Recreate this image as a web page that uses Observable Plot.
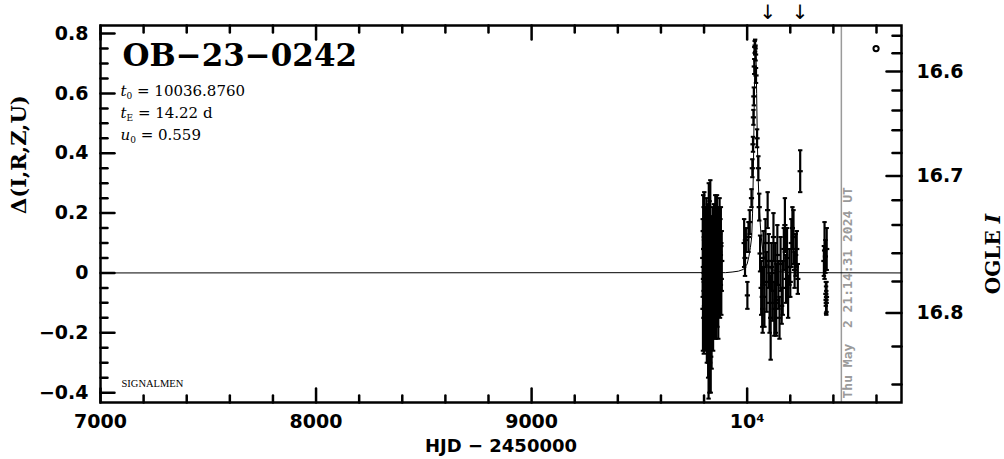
<!DOCTYPE html>
<html><head><meta charset="utf-8">
<script src="https://cdn.jsdelivr.net/npm/d3@7"></script>
<script src="https://cdn.jsdelivr.net/npm/@observablehq/plot@0.6"></script>
<style>
body{margin:0;background:#fff}
svg text{white-space:pre}
</style>
</head><body><div id="chart"></div>
<script>
// ---------- data ----------
const eventName = "OB−23−0242";
const paramLines = ["t0 = 10036.8760", "tE = 14.22 d", "u0 = 0.559"];
const xLabel = "HJD − 2450000";
const yLabel = "Δ(I,R,Z,U)";
const y2Label = "OGLE I";
const dateLabel = "Thu May  2 21:14:31 2024 UT";
const creditLabel = "SIGNALMEN";
const nowT = 10437;                 // date line (HJD-2450000)
const arrowT = [10096, 10246];      // arrows above the frame
const markerT = [10598];            // small open circle
const markerD = [0.75];

// observations: time, delta, error
const obsT = [
 9794,9795,9796,9797,9798,9799,9800,9801,9802,9803,9804,9806,9807,9808,9810,9811,9812,9813,9815,9816,
 9818,9819,9820,9821,9822,9823,9824,9825,9826,9827,9828,9829,9830,9831,9832,9833,9835,9836,9838,9840,
 9842,9844,9846,9848,9850,9852,9854,9856,9858,9860,9862,9864,9866,9868,9870,9872,9874,9876,9878,9880,9882,
 9986,9990,9994,10001,10006,10012,10020,10024,10027,10029,10031,10033,10035,10037,10039,10041,10046,10052,10056,10060,
 10065,10070,10072,10076,10080,10085,10090,10095,10100,10104,10109,10113,10118,10122,10126,10130,10133,10135,10140,10145,
 10150,10155,10160,10165,10170,10175,10180,10185,10190,10196,10200,10205,10210,10215,10220,10225,10230,10235,10246,
 10356,10359,10363,10365,10366,10367,10368,10369
];
const obsD = [
 0.05,-0.12,0.14,-0.02,0.08,-0.15,0.00,0.12,-0.08,0.04,-0.13,0.10,-0.05,0.02,-0.10,0.15,-0.02,-0.18,0.06,-0.07,
 0.10,-0.22,0.00,-0.30,0.16,-0.12,0.05,-0.26,0.12,-0.05,-0.18,0.18,-0.02,-0.28,0.07,-0.10,-0.20,0.03,-0.08,0.10,
 -0.14,0.00,0.12,-0.06,-0.12,0.13,-0.02,-0.10,0.08,0.12,-0.05,0.03,-0.08,0.10,0.00,0.13,-0.04,0.06,0.09,-0.02,0.04,
 0.10,0.05,0.11,-0.075,0.12,0.17,0.25,0.35,0.43,0.52,0.59,0.69,0.755,0.76,0.73,0.66,0.45,0.35,0.22,0.065,
 -0.05,-0.08,-0.12,0.05,-0.08,0.10,-0.03,0.21,0.04,-0.10,-0.15,0.02,-0.06,0.12,-0.12,0.00,-0.10,-0.09,0.06,-0.04,
 -0.15,0.03,-0.11,-0.05,0.08,0.16,-0.02,0.05,-0.08,0.02,-0.03,0.10,0.15,0.12,0.01,0.06,0.08,-0.02,0.34,
 0.04,0.075,0.055,-0.07,-0.09,-0.10,-0.08,0.08
];
const obsE = [
 0.13,0.14,0.12,0.10,0.14,0.12,0.11,0.15,0.12,0.10,0.13,0.12,0.14,0.10,0.12,0.10,0.13,0.12,0.12,0.15,
 0.13,0.13,0.12,0.12,0.14,0.14,0.11,0.14,0.12,0.13,0.12,0.13,0.10,0.12,0.12,0.13,0.12,0.14,0.11,0.12,
 0.12,0.13,0.11,0.12,0.10,0.13,0.12,0.12,0.12,0.14,0.13,0.11,0.14,0.12,0.12,0.12,0.11,0.12,0.13,0.12,0.10,
 0.08,0.06,0.04,0.045,0.05,0.04,0.03,0.03,0.025,0.025,0.03,0.025,0.02,0.02,0.02,0.025,0.03,0.04,0.045,0.06,
 0.09,0.10,0.08,0.09,0.10,0.08,0.10,0.06,0.09,0.10,0.14,0.08,0.10,0.08,0.09,0.10,0.10,0.12,0.10,0.08,
 0.07,0.09,0.06,0.09,0.07,0.09,0.08,0.10,0.07,0.06,0.05,0.08,0.07,0.09,0.06,0.07,0.06,0.05,0.07,
 0.05,0.095,0.055,0.04,0.045,0.04,0.05,0.07
];

// model curve
const modelT = [7000,9900,9930,9960,9983,10000,10008,10015,10021,10025,10029,10032,10035,10037,10041,10044,10047,10051,10056,10062,10068,10076,10090,10110,10150,10200,10716];
const modelD = [0,0.001,0.003,0.006,0.012,0.03,0.055,0.085,0.12,0.2,0.35,0.52,0.68,0.77,0.73,0.6,0.45,0.32,0.22,0.15,0.10,0.06,0.03,0.012,0.004,0.001,0];

// axes
const xMajor = [7000,8000,9000,10000];
const xMajorLabels = ["7000","8000","9000","10⁴"];
const xMinor = [7200,7400,7600,7800,8200,8400,8600,8800,9200,9400,9600,9800,10200,10400,10600];
const yMajor = [-0.4,-0.2,0,0.2,0.4,0.6,0.8];
const yMajorLabels = ["−0.4","−0.2","0","0.2","0.4","0.6","0.8"];
const yMinor = [-0.35,-0.3,-0.25,-0.15,-0.1,-0.05,0.05,0.1,0.15,0.25,0.3,0.35,0.45,0.5,0.55,0.65,0.7,0.75];
// right axis: OGLE I magnitude ticks and the delta value at which each one sits
const magMajor = ["16.6","16.7","16.8"];
const magMajorDelta = [0.673,0.324,-0.134];
const magMinorDelta = [0.793,0.734,0.610,0.543,0.477,0.401,0.243,0.160,0.066,-0.029,-0.246,-0.373];

// ---------- build ----------
const obs = obsT.map((t,i)=>({t, d: obsD[i], e: obsE[i]}));
const model = modelT.map((t,i)=>({t, d: modelD[i]}));
const markers = markerT.map((t,i)=>({t, d: markerD[i]}));

const line = {draw(c, l){ c.moveTo(0,0); c.lineTo(0,-l); }};
const hbar = {draw(c, size){ const r = Math.sqrt(size/Math.PI); c.moveTo(-r,0); c.lineTo(r,0); }};

const sans = "DejaVu Sans";
const serif = "DejaVu Serif";
const tickW = 2.5;

const svg = Plot.plot({
  width: 1004, height: 459,
  marginLeft: 100, marginRight: 103, marginTop: 25, marginBottom: 57,
  x: {domain: [7000, 10716], axis: null},
  y: {domain: [-0.433, 0.827], axis: null},
  style: {fontFamily: sans, fontSize: "19px", fontWeight: "bold", color: "black", background: "white"},
  marks: [
    // date line
    Plot.ruleX([nowT], {x: d=>d, stroke: "#9a9a9a", strokeWidth: 1.5}),
    Plot.text([nowT], {x: d=>d, text: ()=>dateLabel, frameAnchor: "bottom", rotate: -90, textAnchor: "start", lineAnchor: "top",
      dx: 1, dy: -4, fill: "#9a9a9a", fontFamily: "DejaVu Sans Mono", fontWeight: "bold", fontSize: 13}),
    // model
    Plot.line(model, {x: "t", y: "d", stroke: "black", strokeWidth: 1}),
    // error bars
    Plot.ruleX(obs, {x: "t", y1: d=>d.d-d.e, y2: d=>d.d+d.e, stroke: "black", strokeWidth: 2.2}),
    Plot.dot(obs, {x: "t", y: d=>d.d-d.e, symbol: hbar, r: 2.2, stroke: "black", strokeWidth: 2}),
    Plot.dot(obs, {x: "t", y: d=>d.d+d.e, symbol: hbar, r: 2.2, stroke: "black", strokeWidth: 2}),
    Plot.dot(obs, {x: "t", y: "d", symbol: hbar, r: 2.6, stroke: "black", strokeWidth: 2.2}),
    Plot.dot(markers, {x: "t", y: "d", r: 2.6, stroke: "black", strokeWidth: 2, fill: "none"}),
    // frame and ticks
    Plot.frame({stroke: "black", strokeWidth: tickW}),
    Plot.vector(xMajor, {x: d=>d, frameAnchor: "bottom", length: 14, rotate: 0, anchor: "start", shape: line, strokeWidth: tickW}),
    Plot.vector(xMinor, {x: d=>d, frameAnchor: "bottom", length: 7, rotate: 0, anchor: "start", shape: line, strokeWidth: tickW}),
    Plot.vector(xMajor, {x: d=>d, frameAnchor: "top", length: 14, rotate: 180, anchor: "start", shape: line, strokeWidth: tickW}),
    Plot.vector(xMinor, {x: d=>d, frameAnchor: "top", length: 7, rotate: 180, anchor: "start", shape: line, strokeWidth: tickW}),
    Plot.vector(yMajor, {y: d=>d, frameAnchor: "left", length: 14, rotate: 90, anchor: "start", shape: line, strokeWidth: tickW}),
    Plot.vector(yMinor, {y: d=>d, frameAnchor: "left", length: 7, rotate: 90, anchor: "start", shape: line, strokeWidth: tickW}),
    Plot.vector(magMajorDelta, {y: d=>d, frameAnchor: "right", length: 15, rotate: -90, anchor: "start", shape: line, strokeWidth: tickW}),
    Plot.vector(magMinorDelta, {y: d=>d, frameAnchor: "right", length: 9, rotate: -90, anchor: "start", shape: line, strokeWidth: tickW}),
    // tick labels
    Plot.text(xMajor, {x: d=>d, text: (d,i)=>xMajorLabels[i], frameAnchor: "bottom", lineAnchor: "top", dy: 12, fontSize: 19}),
    Plot.text(yMajor, {y: d=>d, text: (d,i)=>yMajorLabels[i], frameAnchor: "left", textAnchor: "end", dx: -12, fontSize: 19}),
    Plot.text(magMajorDelta, {y: d=>d, text: (d,i)=>magMajor[i], frameAnchor: "right", textAnchor: "start", dx: 15, fontSize: 19}),
    // axis titles
    Plot.text([xLabel], {frameAnchor: "bottom", lineAnchor: "middle", dy: 44, fontSize: 18}),
    Plot.text([yLabel], {frameAnchor: "left", rotate: -90, dx: -81, fontFamily: serif, fontSize: 21}),
    Plot.text([y2Label], {frameAnchor: "right", rotate: -90, dx: 92, fontFamily: serif, fontSize: 20}),
    // arrows above
    Plot.text(arrowT, {x: d=>d, text: ()=>"↓", frameAnchor: "top", lineAnchor: "middle", dy: -13, fontSize: 20, fontWeight: "normal"}),
    // title and parameters
    Plot.text([eventName], {frameAnchor: "top-left", textAnchor: "start", lineAnchor: "top", dx: 22, dy: 18, fontFamily: serif, fontSize: 31}),
    ...paramLines.map((s,i)=>Plot.text([s], {frameAnchor: "top-left", textAnchor: "start", lineAnchor: "top", dx: 20, dy: 60 + i*22, fontFamily: serif, fontWeight: "normal", fontSize: 15})),
    Plot.text([creditLabel], {frameAnchor: "bottom-left", textAnchor: "start", lineAnchor: "bottom", dx: 21, dy: -16, fontFamily: "Liberation Serif", fontWeight: "normal", fontSize: 10.5})
  ]
});

// rich text: italics and subscripts
svg.querySelectorAll("text").forEach(t => {
  const s = t.textContent;
  const m = /^([tu])([0E]) = (.*)$/.exec(s);
  const ns = "http://www.w3.org/2000/svg";
  if (m) {
    t.textContent = "";
    const a = document.createElementNS(ns, "tspan"); a.setAttribute("font-style","italic"); a.textContent = m[1];
    const b = document.createElementNS(ns, "tspan"); b.setAttribute("font-size","9"); b.setAttribute("dy","3"); b.textContent = m[2];
    const c = document.createElementNS(ns, "tspan"); c.setAttribute("dy","-3"); c.textContent = " = " + m[3];
    t.append(a, b, c);
  } else if (s === y2Label) {
    t.textContent = "";
    const a = document.createElementNS(ns, "tspan"); a.textContent = "OGLE ";
    const b = document.createElementNS(ns, "tspan"); b.setAttribute("font-style","italic"); b.textContent = "I";
    t.append(a, b);
  }
});
document.getElementById("chart").append(svg);
</script>
</body></html>
